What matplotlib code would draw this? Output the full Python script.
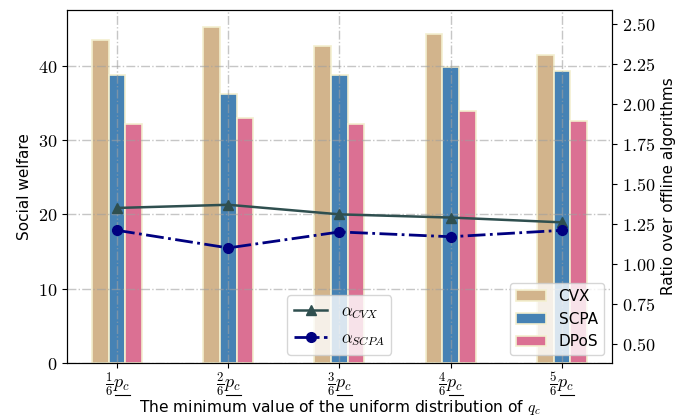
import numpy as np
import matplotlib
matplotlib.use('Agg')
import matplotlib.pyplot as plt
from matplotlib.ticker import FuncFormatter
from matplotlib.lines import Line2D

plt.rcParams['mathtext.fontset'] = 'cm'
plt.rcParams['font.family'] = 'DejaVu Sans'

# data
xlabels = [r'$\frac{1}{6}p_c$', r'$\frac{2}{6}p_c$', r'$\frac{3}{6}p_c$',
           r'$\frac{4}{6}p_c$', r'$\frac{5}{6}p_c$']
cvx = [43.5, 45.2, 42.6, 44.3, 41.4]
scpa = [38.7, 36.2, 38.7, 39.8, 39.3]
dpos = [32.1, 32.9, 32.1, 33.9, 32.5]
ratio_cvx = [1.35, 1.37, 1.31, 1.29, 1.26]
ratio_scpa = [1.21, 1.10, 1.20, 1.17, 1.21]

x = np.arange(len(xlabels))
w = 0.15
edge = '#f3efcf'

fig = plt.figure(figsize=(6.88, 4.18), dpi=100)
ax = fig.add_axes([0.0974, 0.1316, 0.792, 0.845])
ax2 = ax.twinx()

ax.bar(x - w, cvx, w, color='tan', edgecolor=edge, linewidth=1.2, label='CVX')
ax.bar(x, scpa, w, color='steelblue', edgecolor=edge, linewidth=1.2, label='SCPA')
ax.bar(x + w, dpos, w, color='palevioletred', edgecolor=edge, linewidth=1.2, label='DPoS')
# grid sits on top of the bars, like in the original
ax.set_axisbelow(False)
ax.grid(color='#a0a0a0', alpha=0.6, linestyle='-.', linewidth=1)

ax2.plot(x, ratio_cvx, color='darkslategray', marker='^', markersize=7, linewidth=1.8,
         label=r'$\alpha_{CVX}$')
ax2.plot(x, ratio_scpa, color='navy', marker='o', markersize=7, linewidth=2,
         linestyle='-.', label=r'$\alpha_{SCPA}$')

ax.set_xlim(-0.45, 4.45)
ax.set_ylim(0, 47.5)
ax2.set_ylim(0.38, 2.59)
ax.set_xticks(x)
ax.set_xticklabels(xlabels, fontsize=12.5)
ax.set_yticks([0, 10, 20, 30, 40])
ax2.set_yticks([0.5, 0.75, 1.0, 1.25, 1.5, 1.75, 2.0, 2.25, 2.5])
ax.yaxis.set_major_formatter(FuncFormatter(lambda v, p: r'$%d$' % v))
ax2.yaxis.set_major_formatter(FuncFormatter(lambda v, p: r'$%.2f$' % v))
ax.tick_params(labelsize=13)
ax.tick_params(axis='x', pad=2)
ax2.tick_params(labelsize=13)

ax.set_xlabel(r'The minimum value of the uniform distribution of $q_c$', fontsize=11.2)
ax.xaxis.set_label_coords(0.5, -0.098)
ax.set_ylabel('Social welfare', fontsize=11)
ax2.set_ylabel('Ratio over offline algorithms', fontsize=11)

ax.legend(loc='lower right', fontsize=11)
ax2.legend(loc='lower center', fontsize=12, bbox_to_anchor=(0.5, 0.0))

# mathtext has no \underline, so underline the p_c part by hand
fig.canvas.draw()
for lab in ax.get_xticklabels():
    bb = lab.get_window_extent()
    x0 = bb.x0 + 0.42 * bb.width
    y = bb.y0 + 0.12 * bb.height
    fig.add_artist(Line2D([x0, bb.x1], [y, y], transform=None,
                          color='black', linewidth=0.8))

fig.savefig('out.png', dpi=100)
